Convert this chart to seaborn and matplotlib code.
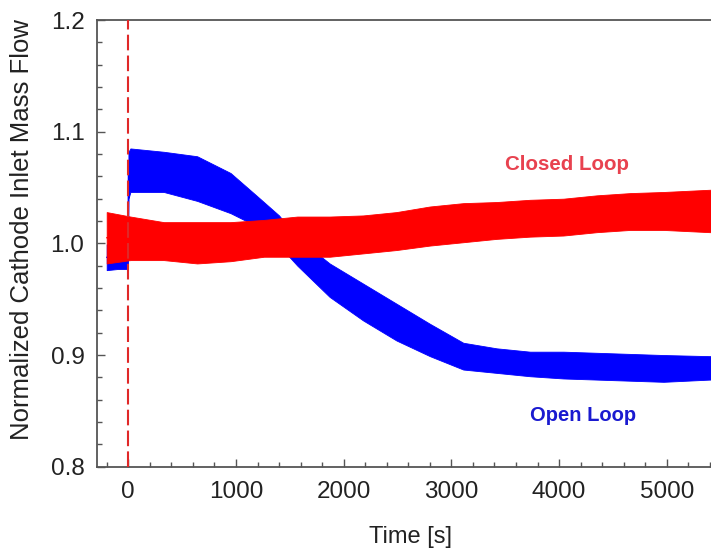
import numpy as np
import pandas as pd
import matplotlib
matplotlib.use("Agg")
import matplotlib.pyplot as plt
import seaborn as sns

# ---- data (envelope of the noisy signals) ----
open_time = [-200, -100, -2, 2, 20, 330, 640, 950, 1200, 1400, 1570, 1870, 2180, 2490,
             2800, 3110, 3420, 3730, 4040, 4350, 4660, 4970, 5400, 5500]
open_low = [0.976, 0.977, 0.977, 1.040, 1.046, 1.046, 1.038, 1.027, 1.015, 0.998, 0.980,
            0.952, 0.931, 0.913, 0.899, 0.887, 0.884, 0.881, 0.879, 0.878, 0.877, 0.876,
            0.878, 0.878]
open_high = [0.999, 1.000, 1.000, 1.082, 1.085, 1.082, 1.078, 1.063, 1.042, 1.025, 1.005,
             0.982, 0.964, 0.946, 0.928, 0.911, 0.906, 0.903, 0.903, 0.902, 0.901, 0.900,
             0.899, 0.899]

closed_time = [-200, 20, 330, 640, 950, 1260, 1570, 1870, 2180, 2490, 2800, 3110, 3420,
               3730, 4040, 4350, 4660, 4970, 5400, 5500]
closed_low = [0.982, 0.985, 0.985, 0.982, 0.984, 0.988, 0.988, 0.988, 0.991, 0.994, 0.998,
              1.001, 1.004, 1.006, 1.007, 1.010, 1.012, 1.012, 1.010, 1.010]
closed_high = [1.028, 1.024, 1.019, 1.019, 1.019, 1.021, 1.024, 1.024, 1.025, 1.028, 1.033,
               1.036, 1.037, 1.039, 1.040, 1.043, 1.045, 1.046, 1.048, 1.048]

series_names = ["Open Loop", "Closed Loop"]
x_ticks = [0, 1000, 2000, 3000, 4000, 5000]
y_ticks = [0.8, 0.9, 1.0, 1.1, 1.2]

# ---- long-form table (two rows per time: lower and upper envelope) ----
rows = []
for t, lo, hi in zip(open_time, open_low, open_high):
    rows.append((t, lo, "Open Loop"))
    rows.append((t, hi, "Open Loop"))
for t, lo, hi in zip(closed_time, closed_low, closed_high):
    rows.append((t, lo, "Closed Loop"))
    rows.append((t, hi, "Closed Loop"))
df = pd.DataFrame(rows, columns=["Time", "Flow", "Series"])

sns.set_theme(style="white")
plt.rcParams["font.family"] = ["Liberation Sans", "DejaVu Sans"]

fig = plt.figure(figsize=(7.11, 5.49), dpi=100)
ax = fig.add_axes([97 / 711, 1 - 466.7 / 549, 0.8772, (466.7 - 20) / 549])

palette = {"Open Loop": "#0000ff", "Closed Loop": "#ff0000"}
sns.lineplot(data=df, x="Time", y="Flow", hue="Series", hue_order=series_names,
             palette=palette, estimator="mean", errorbar=("pi", 100),
             err_kws={"alpha": 1.0, "linewidth": 0.6}, linewidth=1.0,
             legend=False, ax=ax, sort=True)
# keep drawing order: blue (line+band) first, red (line+band) on top
for art in list(ax.lines) + list(ax.collections):
    art.set_zorder(1)
for coll, name in zip(ax.collections, series_names):
    coll.set_edgecolor(palette[name])

# dashed vertical line at t = 0
ax.axvline(0, color="#e02828", linewidth=1.5, linestyle=(0, (7.5, 2.5)), zorder=5)

ax.set_xlim(-290, 5500)
ax.set_ylim(0.8, 1.2)
ax.set_xticks(x_ticks)
ax.set_xticklabels([str(v) for v in x_ticks])
ax.set_yticks(y_ticks)
ax.set_yticklabels([f"{v:.1f}" for v in y_ticks])
ax.set_xticks(np.arange(-200, 5500, 200), minor=True)
ax.set_yticks(np.arange(0.8, 1.2001, 0.02), minor=True)

ax.tick_params(axis="both", which="both", bottom=True, left=True, top=False, right=False)
ax.tick_params(axis="both", which="major", direction="in", length=6, width=1,
               color="#555555", labelsize=17.5, labelcolor="#222222")
ax.tick_params(axis="both", which="minor", direction="in", length=3.5, width=1,
               color="#555555")
ax.tick_params(axis="x", which="major", pad=10)
ax.tick_params(axis="y", which="major", pad=9)

for s in ax.spines.values():
    s.set_color("#555555")
    s.set_linewidth(1.3)

ax.set_xlabel("Time [s]", fontsize=17, color="#222222")
ax.set_ylabel("Normalized Cathode Inlet Mass Flow", fontsize=18.5, color="#222222")
ax.xaxis.set_label_coords(0.502, -0.132)
ax.yaxis.set_label_coords(-0.12, 0.53)
ax.yaxis.label.set_verticalalignment("center")

ax.text(4073, 1.071, "Closed Loop", color="#e8424f", fontsize=14.8,
        fontweight="bold", ha="center", va="center")
ax.text(4220, 0.846, "Open Loop", color="#1a1ad0", fontsize=14.5,
        fontweight="bold", ha="center", va="center")

fig.savefig("out.png", dpi=100)
